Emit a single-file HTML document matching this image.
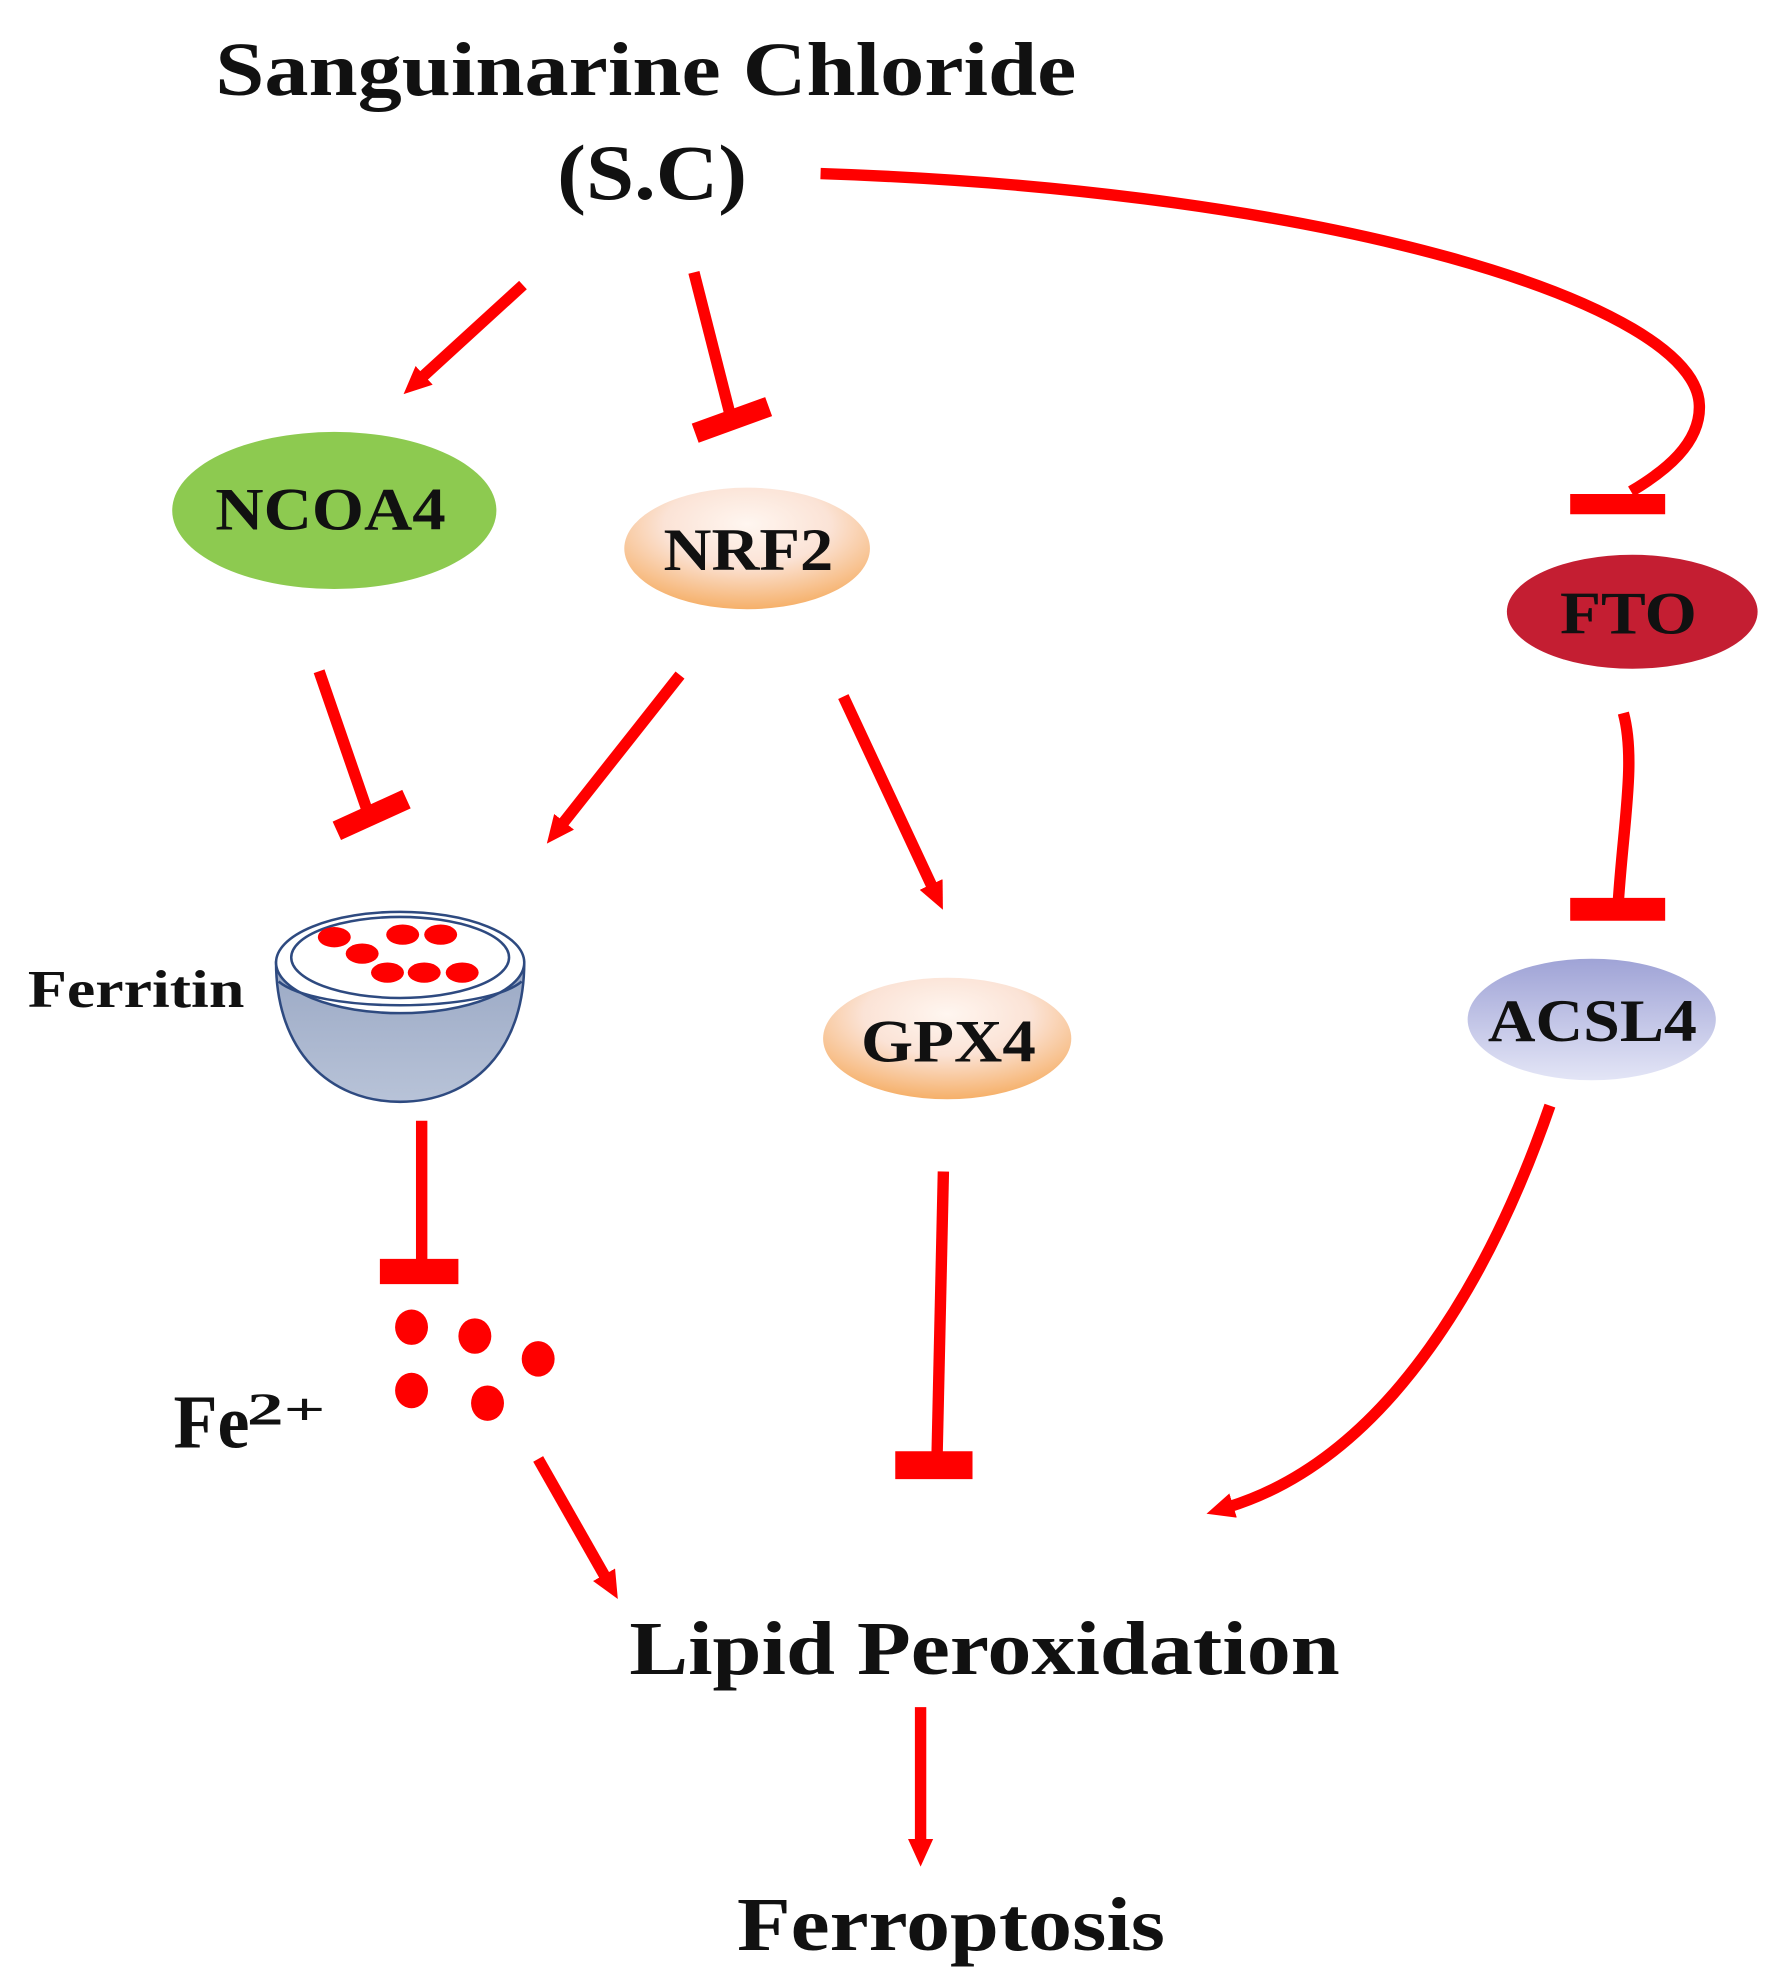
<!DOCTYPE html>
<html><head><meta charset="utf-8"><style>html,body{margin:0;padding:0;background:#fff}svg{display:block}</style></head><body>
<svg width="1788" height="1982" viewBox="0 0 1412 1565" xmlns="http://www.w3.org/2000/svg">
<defs>
<marker id="ah" markerWidth="22" markerHeight="20" refX="4" refY="10" orient="auto" markerUnits="userSpaceOnUse">
<path d="M0,0 L22,10 L0,20 z" fill="#f00"/></marker>
<radialGradient id="pe" cx="50%" cy="30%" r="75%"><stop offset="0" stop-color="#fff6f0"/><stop offset="0.45" stop-color="#fbe3d6"/><stop offset="1" stop-color="#f5a95a"/></radialGradient>
<linearGradient id="lav" x1="0" y1="0" x2="0" y2="1"><stop offset="0" stop-color="#9fa3d6"/><stop offset="1" stop-color="#e3e5f6"/></linearGradient>
<linearGradient id="bowl" x1="0" y1="0" x2="0" y2="1"><stop offset="0" stop-color="#9aa8c4"/><stop offset="1" stop-color="#b8c3d8"/></linearGradient>
</defs>
<g font-family="Liberation Serif, serif" font-weight="bold" fill="#111">
<text x="170" y="75" font-size="60" textLength="680" lengthAdjust="spacingAndGlyphs">Sanguinarine Chloride</text>
<text x="440" y="157" font-size="62" textLength="150" lengthAdjust="spacingAndGlyphs">(S.C)</text>
<text x="497" y="1322" font-size="60" textLength="561" lengthAdjust="spacingAndGlyphs">Lipid Peroxidation</text>
<text x="582" y="1540" font-size="60" textLength="338" lengthAdjust="spacingAndGlyphs">Ferroptosis</text>
<text x="22" y="795" font-size="42" textLength="171" lengthAdjust="spacingAndGlyphs">Ferritin</text>
<text x="137" y="1143" font-size="60" textLength="60" lengthAdjust="spacingAndGlyphs">Fe</text>
<text x="195" y="1125" font-size="36" textLength="62" lengthAdjust="spacingAndGlyphs">2+</text>
</g>
<g stroke="#f00" stroke-width="9" fill="none">
<path d="M648,137 C1050,150 1340,240 1342,320 C1343,350 1315,372 1288,388"/>
<line x1="413" y1="225" x2="332" y2="299" marker-end="url(#ah)"/>
<line x1="548" y1="215" x2="576" y2="325"/>
<line x1="252" y1="530" x2="290" y2="640"/>
<line x1="537" y1="533" x2="443" y2="652" marker-end="url(#ah)"/>
<line x1="666" y1="550" x2="737" y2="702" marker-end="url(#ah)"/>
<path d="M1282,563 C1292,600 1282,650 1278,712"/>
<line x1="333" y1="885" x2="333" y2="998"/>
<line x1="425" y1="1152" x2="479" y2="1247" marker-end="url(#ah)"/>
<line x1="745" y1="925" x2="740" y2="1150"/>
<path d="M1224,873 C1180,1000 1100,1150 970,1190" marker-end="url(#ah)"/>
<line x1="727" y1="1348" x2="727" y2="1456" marker-end="url(#ah)"/>
</g>
<g stroke="#f00" fill="none">
<line x1="1240" y1="398" x2="1315" y2="398" stroke-width="16"/>
<line x1="549" y1="342" x2="607" y2="321" stroke-width="16"/>
<line x1="266" y1="656" x2="321" y2="631" stroke-width="16"/>
<line x1="1240" y1="718" x2="1315" y2="718" stroke-width="18"/>
<line x1="300" y1="1004" x2="362" y2="1004" stroke-width="20"/>
<line x1="707" y1="1157" x2="768" y2="1157" stroke-width="22"/>
</g>
<ellipse cx="264" cy="403" rx="128" ry="62" fill="#8dca50"/>
<ellipse cx="590" cy="433" rx="97" ry="48" fill="url(#pe)"/>
<ellipse cx="1289" cy="483" rx="99" ry="45" fill="#c41e32"/>
<ellipse cx="748" cy="820" rx="98" ry="48" fill="url(#pe)"/>
<ellipse cx="1257" cy="805" rx="98" ry="48" fill="url(#lav)"/>
<g font-family="Liberation Serif, serif" font-weight="bold" fill="#111">
<text x="170" y="418" font-size="48" textLength="182" lengthAdjust="spacingAndGlyphs">NCOA4</text>
<text x="524" y="450" font-size="48" textLength="134" lengthAdjust="spacingAndGlyphs">NRF2</text>
<text x="1232" y="500" font-size="48" textLength="108" lengthAdjust="spacingAndGlyphs">FTO</text>
<text x="680" y="838" font-size="48" textLength="138" lengthAdjust="spacingAndGlyphs">GPX4</text>
<text x="1175" y="822" font-size="48" textLength="165" lengthAdjust="spacingAndGlyphs">ACSL4</text>
</g>
<path d="M218,760 C218,830 260,870 316,870 C372,870 414,830 414,760 Z" fill="url(#bowl)" stroke="#2e4a80" stroke-width="2"/>
<ellipse cx="316" cy="760" rx="98" ry="40" fill="#fff" stroke="#2e4a80" stroke-width="2"/>
<ellipse cx="316" cy="756" rx="86" ry="32" fill="none" stroke="#2e4a80" stroke-width="2"/>
<path d="M220,775 C250,800 382,800 412,775" fill="none" stroke="#2e4a80" stroke-width="2"/>
<g fill="#f00">
<ellipse cx="264" cy="740" rx="13" ry="8"/><ellipse cx="318" cy="738" rx="13" ry="8"/><ellipse cx="348" cy="738" rx="13" ry="8"/>
<ellipse cx="286" cy="753" rx="13" ry="8"/><ellipse cx="306" cy="768" rx="13" ry="8"/><ellipse cx="335" cy="768" rx="13" ry="8"/><ellipse cx="365" cy="768" rx="13" ry="8"/>
<ellipse cx="325" cy="1048" rx="13" ry="14"/><ellipse cx="375" cy="1055" rx="13" ry="14"/><ellipse cx="425" cy="1073" rx="13" ry="14"/><ellipse cx="325" cy="1098" rx="13" ry="14"/><ellipse cx="385" cy="1108" rx="13" ry="14"/>
</g>
</svg>
</body></html>
